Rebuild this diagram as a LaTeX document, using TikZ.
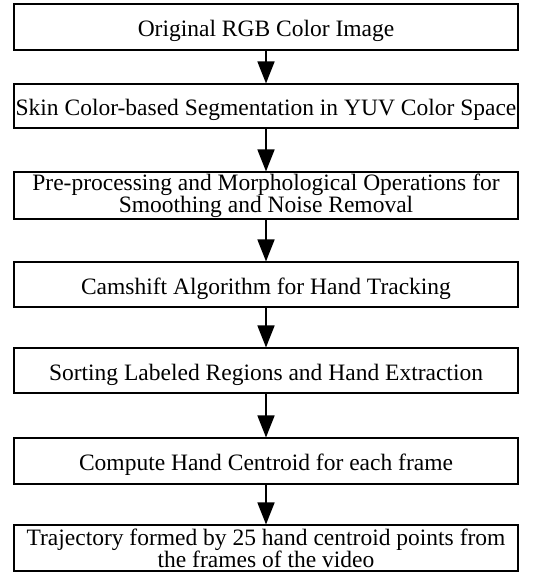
\documentclass[tikz,border=0pt]{standalone}
\usepackage{fontspec}
\setmainfont{Liberation Serif}
\usetikzlibrary{arrows.meta}
\begin{document}
\begin{tikzpicture}[x=1pt,y=-1pt,
  stage/.style={draw, line width=1.1pt, minimum width=504pt, minimum height=45pt,
    inner sep=0pt, align=center, font=\fontsize{23.5}{21}\selectfont},
  oneline/.style={text height=23pt, text depth=4pt},
  flow/.style={-{Triangle[length=22pt,width=17pt]}, line width=1.6pt}]
\useasboundingbox (0,0) rectangle (539,572);
\node[stage, oneline, minimum height=46pt] (s1) at (266,27) {Original RGB Color Image};
\node[stage, oneline, minimum height=44pt] (s2) at (266,106) {Skin Color-based Segmentation in YUV Color Space};
\node[stage, minimum height=47pt] (s3) at (266,195.5) {Pre-processing and Morphological Operations for\\Smoothing and Noise Removal};
\node[stage, oneline] (s4) at (266,284.5) {Camshift Algorithm for Hand Tracking};
\node[stage, oneline] (s5) at (266,370.5) {Sorting Labeled Regions and Hand Extraction};
\node[stage, oneline, minimum height=46pt] (s6) at (266,461) {Compute Hand Centroid for each frame};
\node[stage, minimum height=46pt, font=\fontsize{23.5}{22}\selectfont] (s7) at (266,548) {Trajectory formed by 25 hand centroid points from\\the frames of the video};
\draw[flow] (s1) -- (s2);
\draw[flow] (s2) -- (s3);
\draw[flow] (s3) -- (s4);
\draw[flow] (s4) -- (s5);
\draw[flow] (s5) -- (s6);
\draw[flow] (s6) -- (s7);
\end{tikzpicture}
\end{document}
